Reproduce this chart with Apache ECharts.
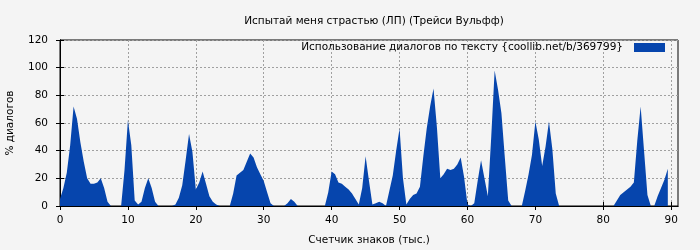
<!DOCTYPE html>
<html>
<head>
<meta charset="utf-8">
<script src="https://cdn.jsdelivr.net/npm/echarts@6/dist/echarts.min.js"></script>
<style>
html,body{margin:0;padding:0;background:#f4f4f4;}
#c{width:700px;height:250px;}
</style>
</head>
<body>
<div id="c"></div>
<script>
// Values sampled every 0.5 thousand characters, starting at 0
const step = 0.5;
const values = [
  5, 13, 24, 44, 72, 63, 46, 32, 20, 16,
  16, 17, 20, 13, 3, 0, 0, 0, 0, 26,
  62, 44, 4, 1, 3, 13, 20, 13, 3, 0,
  0, 0, 0, 0, 1, 6, 15, 33, 52, 39,
  12, 17, 25, 16, 7, 3, 1, 0, 0, 0,
  0, 9, 22, 24, 26, 32, 38, 35, 28, 23,
  18, 10, 2, 0, 0, 0, 0, 2, 5, 3,
  0, 0, 0, 0, 0, 0, 0, 0, 0, 10,
  25, 23, 17, 16, 14, 12, 9, 5, 1, 13,
  36, 18, 1, 2, 3, 2, 0, 11, 22, 40,
  56, 20, 1, 5, 8, 9, 14, 36, 56, 72,
  85, 57, 20, 23, 27, 26, 27, 30, 35, 21,
  1, 0, 2, 18, 33, 20, 7, 50, 98, 84,
  67, 35, 4, 0, 0, 0, 0, 11, 23, 37,
  61, 48, 29, 43, 61, 41, 9, 0, 0, 0,
  0, 0, 0, 0, 0, 0, 0, 0, 0, 0,
  0, 0, 0, 0, 4, 8, 10, 12, 14, 17,
  47, 72, 40, 8, 0, 0, 7, 13, 19, 27
];
const xTicks = [0, 10, 20, 30, 40, 50, 60, 70, 80, 90];
const yTicks = [0, 20, 40, 60, 80, 100, 120];

const titleText = 'Испытай меня страстью (ЛП) (Трейси Вульфф)';
const seriesName = 'Использование диалогов по тексту {coollib.net/b/369799}';
const xName = 'Счетчик знаков (тыс.)';
const yName = '% диалогов';

const data = values.map((v, i) => [i * step, v]);
const FONT = 'DejaVu Sans';
const FS = 10.5;

const chart = echarts.init(document.getElementById('c'), null, {renderer: 'canvas'});
const baseX = {
  type: 'value', min: 0, max: 91, interval: 10,
  axisLine: {show: true, lineStyle: {color: '#000', width: 1}},
  axisTick: {show: true, inside: true, length: 4, lineStyle: {color: '#000'}, customValues: xTicks},
  splitLine: {show: false}
};
const baseY = {
  type: 'value', min: 0, max: 120, interval: 20,
  axisLine: {show: true, lineStyle: {color: '#000', width: 1}},
  axisTick: {show: true, inside: true, length: 4, lineStyle: {color: '#000'}},
  splitLine: {show: false}
};
chart.setOption({
  backgroundColor: '#f4f4f4',
  animation: false,
  title: {
    text: titleText, left: 369, top: 11, textAlign: 'center',
    textStyle: {fontFamily: FONT, fontSize: FS, fontWeight: 'normal', color: '#000'}
  },
  legend: {
    data: [seriesName], right: 35, top: 42, padding: 0, align: 'right',
    icon: 'rect', itemWidth: 31, itemHeight: 9,
    textStyle: {fontFamily: FONT, fontSize: FS, color: '#000', padding: [0, 6, 0, 0]}
  },
  grid: {left: 60, right: 22, top: 40, bottom: 44, outerBoundsMode: 'none', containLabel: false,
    show: true, borderColor: '#000', borderWidth: 1, backgroundColor: 'transparent'},
  xAxis: [
    Object.assign({}, baseX, {
      position: 'bottom',
      name: xName, nameLocation: 'middle', nameGap: 29,
      nameTextStyle: {fontFamily: FONT, fontSize: FS, color: '#000'},
      axisLabel: {margin: 9, fontFamily: FONT, fontSize: FS, color: '#000',
        customValues: xTicks},
      splitLine: {show: true, lineStyle: {color: '#a0a0a0', type: [2, 2], width: 1}}
    }),
    Object.assign({}, baseX, {position: 'top', axisLabel: {show: false}})
  ],
  yAxis: [
    Object.assign({}, baseY, {
      position: 'left',
      name: yName, nameLocation: 'middle', nameGap: 44, nameRotate: 90,
      nameTextStyle: {fontFamily: FONT, fontSize: FS, color: '#000'},
      axisLabel: {margin: 12, fontFamily: FONT, fontSize: FS, color: '#000',
        customValues: yTicks},
      splitLine: {show: true, lineStyle: {color: '#a0a0a0', type: [2, 2], width: 1}}
    }),
    Object.assign({}, baseY, {position: 'right', axisLabel: {show: false}})
  ],
  series: [{
    name: seriesName, type: 'line', data: data,
    xAxisIndex: 0, yAxisIndex: 0,
    showSymbol: false, symbol: 'none',
    lineStyle: {width: 0, color: '#0645ad'},
    itemStyle: {color: '#0645ad'},
    areaStyle: {color: '#0645ad', opacity: 1},
    z: 1
  }]
});
</script>
</body>
</html>
